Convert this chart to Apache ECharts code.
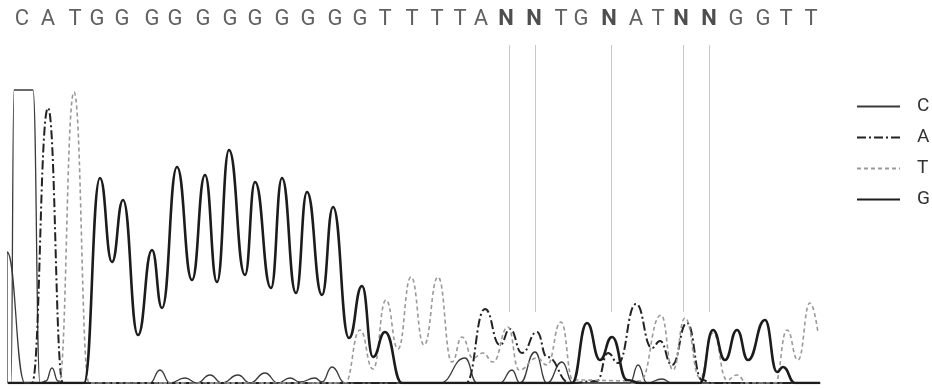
<!DOCTYPE html>
<html>
<head>
<meta charset="utf-8">
<script src="https://cdn.jsdelivr.net/npm/echarts@6/dist/echarts.min.js"></script>
<style>
  html, body { margin: 0; padding: 0; background: #fff; }
  #box { width: 932px; height: 389px; }
</style>
</head>
<body>
<div id="box"></div>
<script>
// base calls along the top, and where they sit on the trace axis
const baseLetters = ['C','A','T','G','G','G','G','G','G','G','G','G','G','G','T','T','T','T',
  'A','N','N','T','G','N','A','T','N','N','G','G','T','T'];
const basePositions = [22,48,75,97,122,152,175,203,230,255,282,308,335,360,385,412,437,460,
  481,506,534,561,581,609,636,658,681,709,736,763,786,811];
// ambiguous calls get a grey guide line
const nLinePositions = [509,535,611,683,709];
const nLineRange = [71, 338];

// traces: [position, signal] read at peaks and valleys
const traceCStart = [[7,0],[7,131],[25,0],[30,0]];
const traceC = [[8,0],[11,0],[14,293],[33,293],[40,0],[46,2],[52,15],[58,2],[64,0],[150,0],[160,13],
  [170,0],[185,5],[197,0],[210,8],[222,0],[238,8],[250,0],[265,10],[278,0],[290,5],[300,1],[315,5],
  [322,1],[332,16],[345,0],[440,0],[465,25],[477,0],[500,0],[512,13],[520,0],[535,31],[547,0],
  [562,21],[573,0],[630,0],[638,18],[647,0],[662,4],[672,0],[820,0]];
const traceA = [[8,0],[32,0],[48,275],[63,0],[70,0],[466,0],[485,74],[500,38],[510,54],[522,30],
  [537,51],[547,26],[570,0],[597,2],[608,30],[618,20],[636,79],[652,35],[660,42],[672,18],[687,60],
  [702,3],[712,0],[820,0]];
const traceT = [[8,0],[59,0],[74,291],[89,0],[345,0],[360,53],[373,14],[386,83],[398,34],[411,106],
  [424,38],[438,106],[452,21],[462,46],[473,25],[483,30],[493,21],[508,56],[519,13],[537,25],
  [547,18],[561,61],[573,3],[640,2],[661,68],[673,13],[685,65],[700,5],[713,50],[727,3],[737,8],
  [747,0],[775,0],[787,53],[798,23],[810,80],[818,50]];
const traceG = [[8,0],[84,0],[100,205],[112,121],[123,183],[138,48],[152,133],[162,75],[177,216],
  [192,103],[205,208],[217,101],[229,233],[245,108],[255,201],[271,95],[282,205],[296,90],[307,191],
  [322,88],[333,176],[349,45],[362,97],[373,26],[385,51],[402,0],[572,0],[587,60],[600,23],[612,46],
  [627,3],[640,0],[700,0],[713,53],[725,23],[737,53],[748,23],[765,63],[777,11],[783,16],[795,0],
  [820,0]];

const myChart = echarts.init(document.getElementById('box'));

const font = "Roboto, 'Liberation Sans', sans-serif";

function trace(name, data, color, width, type) {
  return {
    name: name,
    type: 'line',
    data: data,
    smooth: 0.5,
    smoothMonotone: 'x',
    showSymbol: false,
    symbol: 'none',
    lineStyle: { color: color, width: width, type: type },
    itemStyle: { color: color },
    silent: true
  };
}

const letterData = baseLetters.map((b, i) => [basePositions[i], 364, b]);

const option = {
  animation: false,
  grid: { left: 8, right: 112, top: 0, bottom: 6 },
  xAxis: {
    type: 'value', min: 8, max: 820,
    axisLine: { show: true, lineStyle: { color: '#666', width: 1.5 } },
    axisTick: { show: false }, axisLabel: { show: false }, splitLine: { show: false }
  },
  yAxis: {
    type: 'value', min: 0, max: 383,
    axisLine: { show: false }, axisTick: { show: false },
    axisLabel: { show: false }, splitLine: { show: false }
  },
  legend: {
    data: ['C', 'A', 'T', 'G'],
    orient: 'vertical',
    left: 851, top: 92,
    itemWidth: 43, itemHeight: 14, itemGap: 12,
    selectedMode: false,
    itemStyle: { opacity: 0 },
    textStyle: {
      fontFamily: font, fontSize: 19, color: '#333', padding: [0, 0, 0, 12]
    }
  },
  series: [
    trace('C', traceC, '#3a3a3a', 1.3, 'solid'),
    trace('A', traceA, '#222', 2, [9, 3, 2, 3]),
    trace('T', traceT, '#999', 1.6, [4, 3]),
    trace('G', traceG, '#1c1c1c', 2.6, 'solid'),
    trace('C', traceCStart, '#3a3a3a', 1.3, 'solid'),
    {
      type: 'scatter',
      data: letterData,
      symbolSize: 1,
      itemStyle: { color: 'transparent' },
      silent: true,
      label: {
        show: true,
        position: 'inside',
        fontFamily: font,
        fontSize: 22,
        color: '#3a3a3a',
        formatter: p => p.value[2] === 'N' ? '{n|N}' : p.value[2],
        rich: { n: { fontWeight: 'bold', fontSize: 22, color: '#222', fontFamily: font } }
      },
      markLine: {
        silent: true,
        symbol: 'none',
        label: { show: false },
        lineStyle: { color: '#c8c8c8', width: 1, type: 'solid' },
        data: nLinePositions.map(x => [{ coord: [x, nLineRange[0]] }, { coord: [x, nLineRange[1]] }])
      }
    }
  ]
};

myChart.setOption(option);
</script>
</body>
</html>
